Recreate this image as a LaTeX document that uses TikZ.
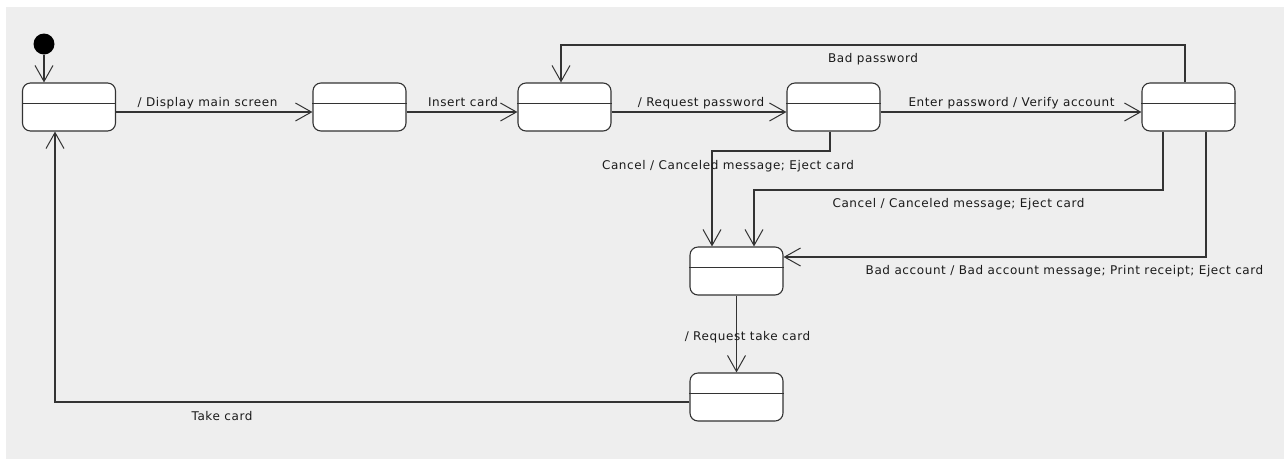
\documentclass[tikz,border=0pt]{standalone}
\usepackage{fontspec}
\setmainfont{DejaVu Sans}
\newfontfamily\labelfont[LetterSpace=5]{DejaVu Sans}
\usetikzlibrary{arrows.meta}
\definecolor{bg}{HTML}{EEEEEE}
\definecolor{edge}{HTML}{333333}
\definecolor{ink}{HTML}{1A1A1A}
\tikzset{
  state/.style={draw=edge, fill=white, line width=1.1pt, rounded corners=8pt,
    minimum width=93pt, minimum height=48pt, inner sep=0pt, shape=rectangle},
  trans/.style={draw=edge, line width=1.1pt, -{Straight Barb[length=16pt,width=18pt,line width=1pt]}},
  lbl/.style={anchor=base, inner sep=0pt, text=ink, font=\labelfont\fontsize{12}{14}\selectfont},
}
\newcommand{\divider}[1]{\draw[draw=edge, line width=1.1pt] ([yshift=-21pt]#1.north west) -- ([yshift=-21pt]#1.north east);}
\begin{document}
\begin{tikzpicture}[x=1pt, y=-1pt]
  \useasboundingbox (0,0) rectangle (1284,459);
  \fill[bg] (6,7) rectangle (1284,459);

  % initial pseudo-state
  \node[circle, fill=black, minimum size=21pt, inner sep=0pt] (init) at (44,44) {};

  % states
  \node[state] (s1) at (69,107) {};
  \node[state] (s2) at (359.5,107) {};
  \node[state] (s3) at (564.5,107) {};
  \node[state] (s4) at (833.5,107) {};
  \node[state] (s6) at (1188.5,107) {};
  \node[state] (s5) at (736.5,271) {};
  \node[state] (s7) at (736.5,397) {};
  \foreach \s in {s1,s2,s3,s4,s5,s6,s7} {\divider{\s}}

  % bend points of the routed transitions
  \coordinate (bp1) at (1185,45);
  \coordinate (bp2) at (561,45);
  \coordinate (c1a) at (830,151);
  \coordinate (c1b) at (712,151);
  \coordinate (c2a) at (1163,190);
  \coordinate (c2b) at (754,190);
  \coordinate (ba)  at (1206,257);
  \coordinate (tk)  at (55,402);

  % transitions
  \draw[trans] (init) -- (s1.north -| init);
  \draw[trans] (s1.east |- 0,112) -- (s2.west |- 0,112);
  \draw[trans] (s2.east |- 0,112) -- (s3.west |- 0,112);
  \draw[trans] (s3.east |- 0,112) -- (s4.west |- 0,112);
  \draw[trans] (s4.east |- 0,112) -- (s6.west |- 0,112);
  \draw[trans] (s6.north -| bp1) -- (bp1) -- (bp2) -- (s3.north -| bp2);
  \draw[trans] (s4.south -| c1a) -- (c1a) -- (c1b) -- (s5.north -| c1b);
  \draw[trans] (s6.south -| c2a) -- (c2a) -- (c2b) -- (s5.north -| c2b);
  \draw[trans] (s6.south -| ba) -- (ba) -- (s5.east |- ba);
  \draw[trans] (s5.south) -- (s7.north);
  \draw[trans] (s7.west |- tk) -- (tk) -- (s1.south -| tk);

  % transition labels
  \node[lbl] (l1) at (207.5,106.5) {/ Display main screen};
  \node[lbl] (l2) at (463,106.5) {Insert card};
  \node[lbl] (l3) at (701,106.5) {/ Request password};
  \node[lbl] (l4) at (1011.5,106.5) {Enter password / Verify account};
  \node[lbl] (l5) at (873,62) {Bad password};
  \node[lbl] (l6) at (728,169) {Cancel / Canceled message; Eject card};
  \node[lbl] (l7) at (958.5,207) {Cancel / Canceled message; Eject card};
  \node[lbl] (l8) at (1064.5,274) {Bad account / Bad account message; Print receipt; Eject card};
  \node[lbl] (l9) at (747.5,340) {/ Request take card};
  \node[lbl] (l10) at (222,420) {Take card};
\end{tikzpicture}
\end{document}
